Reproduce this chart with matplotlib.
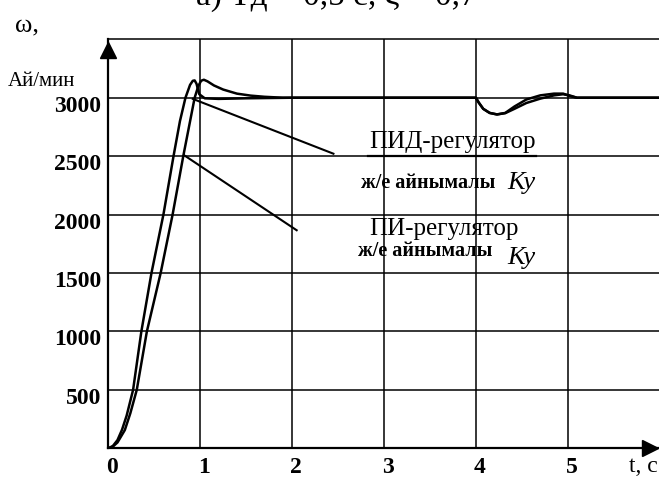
import matplotlib
matplotlib.use("Agg")
import matplotlib.pyplot as plt
from matplotlib.transforms import ScaledTranslation

# --- data ---
# faster response curve (left one)
t_left = [0, 0.05, 0.1, 0.15, 0.2, 0.27, 0.36, 0.47, 0.60, 0.71, 0.78, 0.84, 0.89, 0.92,
          0.94, 0.96, 0.99, 1.05, 1.2, 1.5, 2.0, 3.0, 4.0, 4.03, 4.08, 4.15, 4.23, 4.32,
          4.42, 4.55, 4.7, 4.85, 4.95, 5.02, 5.1, 5.5, 6.0]
w_left = [0, 20, 70, 160, 280, 500, 1000, 1500, 2000, 2500, 2800, 3000, 3110, 3145,
          3148, 3120, 3030, 2995, 2990, 2995, 3000, 3000, 3000, 2960, 2905, 2870, 2857, 2870,
          2925, 2985, 3020, 3035, 3035, 3015, 3000, 3000, 3000]

# slower response curve (right one)
t_right = [0, 0.05, 0.1, 0.18, 0.24, 0.31, 0.42, 0.57, 0.70, 0.816, 0.94, 0.98, 1.01,
           1.04, 1.08, 1.15, 1.25, 1.4, 1.55, 1.7, 1.9, 3.0, 4.0, 4.03, 4.08, 4.15, 4.23,
           4.32, 4.42, 4.55, 4.7, 4.85, 4.95, 5.02, 5.1, 5.5, 6.0]
w_right = [0, 15, 50, 156, 300, 500, 1000, 1500, 2000, 2500, 3000, 3100, 3145,
           3154, 3140, 3105, 3070, 3035, 3018, 3008, 3000, 3000, 3000, 2960, 2905, 2870, 2857,
           2868, 2905, 2955, 2992, 3020, 3030, 3020, 3000, 3000, 3000]

# straight leader lines ("variable Ky" branches)
t_pid_line = [0.92, 2.45]
w_pid_line = [2990, 2521]
t_pi_line = [0.827, 2.05]
w_pi_line = [2507, 1866]

x_ticks = [0, 1, 2, 3, 4, 5]
x_labels = ['0', '1', '2', '3', '4', '5']
y_ticks = [500, 1000, 1500, 2000, 2500, 3000]
y_labels = ['500', '1000', '1500', '2000', '2500', '3000']

plt.rcParams['font.family'] = ['Liberation Serif', 'DejaVu Serif']

fig = plt.figure(figsize=(6.59, 4.78), dpi=100)
ax = fig.add_axes([0.1643, 0.0621, 0.8367, 0.8557])
ax.set_xlim(0, 6)
ax.set_ylim(0, 3500)

# grid
for v in [1, 2, 3, 4, 5, 6]:
    ax.axvline(v, color='black', lw=1.1, zorder=1)
for v in y_ticks + [3500]:
    ax.axhline(v, color='black', lw=1.1, zorder=1, clip_on=False)
# darker underline beneath the PID label
ax.plot([2.83, 4.65], [2500, 2500], color='black', lw=1.6, zorder=2)

for s in ['top', 'right']:
    ax.spines[s].set_visible(False)
for s in ['left', 'bottom']:
    ax.spines[s].set_linewidth(1.6)

# curves
ax.plot(t_left, w_left, color='black', lw=1.8, zorder=3)
ax.plot(t_right, w_right, color='black', lw=1.8, zorder=3)
ax.plot(t_pid_line, w_pid_line, color='black', lw=1.5, zorder=3)
ax.plot(t_pi_line, w_pi_line, color='black', lw=1.5, zorder=3)

# ticks
ax.set_xticks(x_ticks)
ax.set_xticklabels(x_labels, fontsize=17, fontweight='bold')
ax.set_yticks(y_ticks)
ax.set_yticklabels(y_labels, fontsize=17, fontweight='bold')
ax.tick_params(length=0)
ax.tick_params(axis='x', pad=6)
ax.tick_params(axis='y', pad=5)
for lab in ax.get_yticklabels():
    lab.set_transform(lab.get_transform() + ScaledTranslation(0, -0.06, fig.dpi_scale_trans))
for lab in ax.get_xticklabels():
    lab.set_transform(lab.get_transform() + ScaledTranslation(0.04, 0, fig.dpi_scale_trans))

# axis arrows
ax.plot(0, 3410, marker='^', markersize=11, color='black', clip_on=False, zorder=5)
ax.plot(5.9, 0, marker='>', markersize=11, color='black', clip_on=False, zorder=5)

# axis names
fig.text(15 / 659, 1 - 25 / 478, 'ω,', fontsize=19, va='center', ha='left')
fig.text(8 / 659, 1 - 82 / 478, 'Ай/мин', fontsize=15, va='center', ha='left')
fig.text(643 / 659, 1 - 466 / 478, 't, c', fontsize=17, va='center', ha='center')

# clipped caption at the very top
fig.text(0.51, 1 - 5 / 478, 'а) Тд = 0,5 с, ξ = 0,7', fontsize=24, va='baseline', ha='center')

# annotations
ax.text(4.65, 2530, 'ПИД-регулятор', fontsize=18, ha='right', va='bottom')
ax.text(4.21, 2270, 'ж/е айнымалы', fontsize=14.5, fontweight='bold', ha='right', va='center')
ax.text(4.65, 2270, 'Ку', fontsize=19, style='italic', ha='right', va='center')
ax.text(4.46, 1880, 'ПИ-регулятор', fontsize=18, ha='right', va='center')
ax.text(4.18, 1690, 'ж/е айнымалы', fontsize=14.5, fontweight='bold', ha='right', va='center')
ax.text(4.65, 1630, 'Ку', fontsize=19, style='italic', ha='right', va='center')

fig.savefig('out.png', dpi=100)
